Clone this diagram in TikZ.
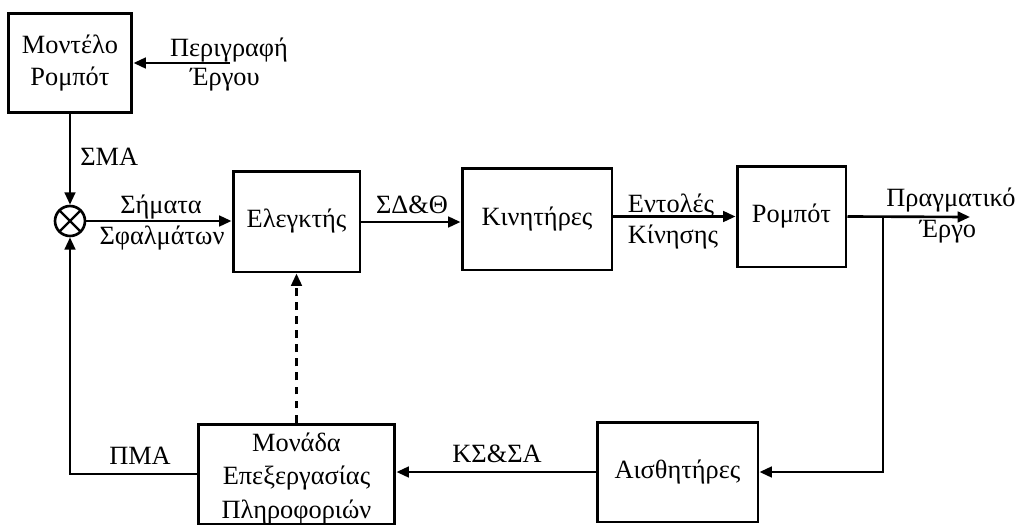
\documentclass[tikz,border=0pt]{standalone}
\usepackage{fontspec}
\setmainfont{Liberation Serif}
\usetikzlibrary{arrows.meta}
\begin{document}
\begin{tikzpicture}[x=0.02cm,y=-0.02cm,
  font=\fontsize{15}{18.5}\selectfont,
  block/.style={draw,line width=1.7pt,align=center,inner sep=0pt},
  wire/.style={line width=1.5pt},
  flow/.style={wire,-{Triangle[length=7pt,width=6pt]}},
  lbl/.style={align=center,inner sep=0pt}]
\useasboundingbox (0,0) rectangle (1016,524);

% blocks
\node[block,minimum width=2.48cm,minimum height=2.0cm] (model) at (70,63) {Μοντέλο\\Ρομπότ};
\node[block,minimum width=2.54cm,minimum height=2.02cm] (ctrl) at (296.5,221.5) {Ελεγκτής};
\node[block,minimum width=3.0cm,minimum height=2.04cm] (act) at (537,219) {Κινητήρες};
\node[block,minimum width=2.18cm,minimum height=2.02cm] (robot) at (791.5,216.5) {Ρομπότ};
\node[block,minimum width=3.22cm,minimum height=2.0cm] (sens) at (677.5,472) {Αισθητήρες};
\node[block,minimum width=3.94cm,minimum height=2.0cm] (proc) at (296.5,474) {};
\node[lbl,font=\fontsize{15}{19}\selectfont] (proctext) at (296.5,478.5) {Μονάδα\\Επεξεργασίας\\Πληροφοριών};

% summing junction
\node[draw,circle,line width=1.5pt,minimum size=0.6cm,inner sep=0pt,
  path picture={\draw[line width=1.4pt]
    (path picture bounding box.north west) -- (path picture bounding box.south east)
    (path picture bounding box.north east) -- (path picture bounding box.south west);}]
  (sum) at (70,221) {};

% free ends
\coordinate (desc) at (230,63);
\coordinate (out) at (970,217);
\coordinate (tap) at (883,217);

% connectors
\draw[flow] (desc) -- (model.east);
\draw[flow] (model.south) -- (sum.north);
\draw[flow] (sum.east) -- (sum.east -| ctrl.west);
\draw[flow] (ctrl.east |- 0,222) -- (act.west |- 0,222);
\draw[flow] (act.east |- robot) -- (robot.west);
\draw[flow] (robot.east) -- (out);
\draw[flow] (tap) |- (sens.east);
\draw[flow] (sens.west) -- (sens.west -| proc.east);
\draw[flow] (proc.west) -| (sum.south);
\draw[flow,dash pattern=on 4.5pt off 3.5pt] (proc.north) -- (ctrl.south);

% labels
\node[lbl] (ldesc) at (229,50) {Περιγραφή};
\node[lbl] (ldesc2) at (225,80) {Έργου};
\node[lbl,anchor=west] (lsma) at (80,157) {ΣΜΑ};
\node[lbl] (lerr1) at (161,207) {Σήματα};
\node[lbl] (lerr2) at (162,238) {Σφαλμάτων};
\node[lbl] (lsdt) at (412,205) {ΣΔ\&Θ};
\node[lbl] (lcmd1) at (671,206) {Εντολές};
\node[lbl] (lcmd2) at (673,237) {Κίνησης};
\node[lbl,anchor=west] (lout1) at (886,200) {Πραγματικό};
\node[lbl] (lout2) at (948,232) {Έργο};
\node[lbl] (lkssa) at (497,454) {ΚΣ\&ΣΑ};
\node[lbl] (lpma) at (140,456) {ΠΜΑ};
\end{tikzpicture}
\end{document}
